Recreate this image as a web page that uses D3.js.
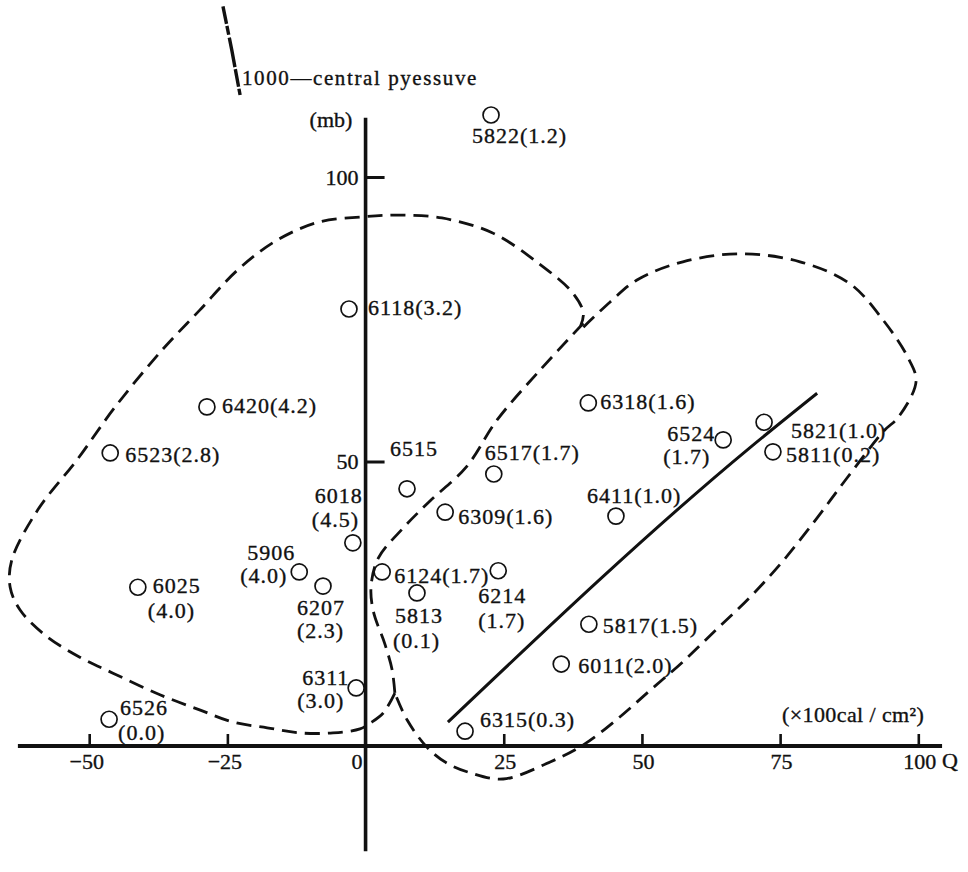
<!DOCTYPE html>
<html>
<head>
<meta charset="utf-8">
<script src="https://cdn.jsdelivr.net/npm/d3@7"></script>
<style>
  html, body { margin: 0; padding: 0; background: #fff; }
  svg { display: block; }
  text { font-family: "Liberation Serif", "DejaVu Serif", serif; fill: #111; stroke: #111; stroke-width: 0.35px; }
</style>
</head>
<body>
<svg id="chart" width="968" height="872"></svg>
<script>
// Typhoon cases: heat supply Q (x100 cal/cm2) against central pressure deficit (mb),
// with the bracketed value written beside each case number.
const caseIds       = ["5822","6118","6420","6523","6515","6517","6309","6018","6124","6214","5813","5906",
                       "6207","6025","6311","6526","6315","6318","6524","5821","5811","6411","5817","6011"];
const qValues       = [22.7, -3.0, -28.7, -46.2, 7.5, 23.2, 14.4, -2.3, 3.0, 24.0, 9.3, -12.0,
                       -7.7, -41.2, -1.7, -46.4, 18.0, 40.3, 64.7, 72.1, 73.7, 45.3, 40.4, 35.4];
const pressureValues = [110.9, 76.8, 59.6, 51.5, 45.2, 47.8, 41.1, 35.7, 30.6, 30.8, 26.9, 30.6,
                       28.1, 27.9, 10.2, 4.7, 2.6, 60.3, 53.8, 56.9, 51.7, 40.4, 21.4, 14.4];
const bracketValues = [1.2, 3.2, 4.2, 2.8, null, 1.7, 1.6, 4.5, 1.7, 1.7, 0.1, 4.0,
                       2.3, 4.0, 3.0, 0.0, 0.3, 1.6, 1.7, 1.0, 0.2, 1.0, 1.5, 2.0];

// Axis ticks
const xTickValues = [-50, -25, 0, 25, 50, 75, 100];
const xTickLabels = ["\u221250", "\u221225", "0", "25", "50", "75", "100"];
const yTickValues = [50, 100];
const yTickLabels = ["50", "100"];

// Hand-drawn envelopes (Q, pressure)
const sharedEdge = [[39.4,74.3],[31.6,66.1],[23.8,57.3],[18.2,49.0],[11.7,43.1],[6.8,38.3],[2.3,33.0],
                    [1.0,28.1],[1.4,23.7],[3.5,17.9],[4.8,13.4],[5.3,9.3]];
const leftEnvelope = [[5.3,9.3],[3.2,5.8],[0.8,4.0],[-1.0,3.0],[-5.9,2.3],[-11.9,2.3],[-17.8,3.2],[-24.0,4.2],
                      [-29.9,6.3],[-37.2,9.0],[-45.7,12.8],[-51.7,15.6],[-58.0,19.5],[-62.5,23.9],[-64.3,27.9],
                      [-64.0,32.7],[-59.3,41.5],[-52.2,50.3],[-45.3,59.6],[-36.8,69.6],[-30.0,76.6],[-23.1,83.7],
                      [-16.0,88.9],[-8.4,92.1],[-0.5,93.0],[6.2,93.3],[13.8,92.8],[22.9,90.2],[31.2,84.9],
                      [37.5,79.6],[39.4,76.1],[38.9,73.8]];
const rightEnvelope = [[39.4,73.6],[44.2,78.0],[49.1,81.9],[57.4,85.1],[67.7,86.5],[78.6,85.1],[87.7,81.2],
                       [93.6,74.9],[98.0,68.5],[99.6,64.1],[96.4,57.8],[93.8,55.4],[87.1,47.1],[81.7,40.1],
                       [75.5,32.5],[69.6,26.2],[63.6,20.6],[57.4,14.8],[51.5,9.8],[45.5,4.7],[39.4,0.2],
                       [33.4,-2.8],[24.9,-5.8],[18.9,-4.7],[14.7,-3.0],[11.1,-0.2],[7.5,4.6],[5.3,9.3]];

// Fitted relation drawn as a solid line
const trendLine = [[14.9,4.2],[69.5,52.4],[81.7,62.0]];

// Broken stub of the pressure scale beside the 1000 mb caption
const pressureStub = [[-25.8,130.0],[-24.2,122.3],[-22.7,114.4]];

// Label placement for each case: offsets (px) of each text line from its circle
const labelLayout = {
  "5822": [[-19, 28]], "6118": [[19, 6]], "6420": [[15, 6]], "6523": [[15, 9]],
  "6515": [[-17, -33]], "6517": [[-9, -14]], "6309": [[13, 12]],
  "6018": [[-38, -40], [-41, -16]], "6124": [[12, 11]], "6214": [[-20, 32], [-20, 57]],
  "5813": [[-22, 30], [-24, 55]], "5906": [[-52, -12], [-59, 11]], "6207": [[-26, 29], [-26, 52]],
  "6025": [[15, 6], [10, 31]], "6311": [[-54, -3], [-59, 20]], "6526": [[11, -4], [9, 21]],
  "6315": [[15, -4]], "6318": [[12, 6]], "6524": [[-56, 1], [-60, 24]], "5821": [[27, 16]],
  "5811": [[13, 10]], "6411": [[-29, -13]], "5817": [[14, 9]], "6011": [[17, 9]]
};

const svg = d3.select("#chart");
const ink = "#111";

const x = d3.scaleLinear().domain([-50, 100]).range([89.2, 918.3]);
const y = d3.scaleLinear().domain([0, 100]).range([746, 177]);

const cases = caseIds.map((id, i) => ({
  id, q: qValues[i], p: pressureValues[i], v: bracketValues[i]
}));

// Envelopes
const curve = d3.line().x(d => x(d[0])).y(d => y(d[1])).curve(d3.curveCatmullRom.alpha(0.5));
[leftEnvelope, sharedEdge, rightEnvelope].forEach(pts => {
  svg.append("path")
    .attr("d", curve(pts))
    .attr("fill", "none")
    .attr("stroke", ink)
    .attr("stroke-width", 2.8)
    .attr("stroke-dasharray", "15 8");
});

// Solid trend line
svg.append("path")
  .attr("d", d3.line().x(d => x(d[0])).y(d => y(d[1])).curve(d3.curveMonotoneX)(trendLine))
  .attr("fill", "none")
  .attr("stroke", ink)
  .attr("stroke-width", 3);

// Axis lines
svg.append("line")
  .attr("x1", x(-62.9)).attr("x2", x(104.3))
  .attr("y1", y(0)).attr("y2", y(0))
  .attr("stroke", ink).attr("stroke-width", 4);
svg.append("line")
  .attr("x1", x(0)).attr("x2", x(0))
  .attr("y1", y(110.4)).attr("y2", y(-18.5))
  .attr("stroke", ink).attr("stroke-width", 3.6);

// X axis ticks (pointing up) and labels
const xAxis = d3.axisBottom(x)
  .tickValues(xTickValues)
  .tickFormat((d, i) => xTickLabels[i])
  .tickSize(-12)
  .tickPadding(7.5);
const gx = svg.append("g").attr("transform", `translate(0,${y(0)})`).call(xAxis);
gx.select(".domain").remove();
gx.selectAll(".tick line").attr("stroke", ink).attr("stroke-width", 2.6)
  .filter(d => d === 0).remove();
gx.selectAll(".tick text")
  .attr("font-size", 22)
  .attr("font-family", "Liberation Serif, serif")
  .attr("fill", ink)
  .attr("dx", d => d === 0 ? -9 : (d < 0 ? -3 : 1));

// Y axis ticks (pointing right) and labels
const yAxis = d3.axisLeft(y)
  .tickValues(yTickValues)
  .tickFormat((d, i) => yTickLabels[i])
  .tickSize(-19)
  .tickPadding(7);
const gy = svg.append("g").attr("transform", `translate(${x(0)},0)`).call(yAxis);
gy.select(".domain").remove();
gy.selectAll(".tick line").attr("stroke", ink).attr("stroke-width", 3);
gy.selectAll(".tick text")
  .attr("font-size", 22)
  .attr("font-family", "Liberation Serif, serif")
  .attr("fill", ink);

// Axis titles
svg.append("text")
  .attr("x", x(0) - 56).attr("y", 127)
  .attr("font-size", 22)
  .text("(mb)");
svg.append("text")
  .attr("x", 242).attr("y", 85)
  .attr("font-size", 21)
  .attr("letter-spacing", 1.6)
  .text("1000\u2014central  pyessuve");
svg.append("text")
  .attr("x", x(104.3)).attr("y", 768)
  .attr("font-size", 22)
  .text("Q");
svg.append("text")
  .attr("x", 782).attr("y", 722)
  .attr("font-size", 22)
  .attr("letter-spacing", 0.4)
  .text("(\u00d7100cal / cm\u00b2)");

// Stub of the pressure scale
svg.append("path")
  .attr("d", d3.line().x(d => x(d[0])).y(d => y(d[1]))(pressureStub))
  .attr("fill", "none")
  .attr("stroke", ink)
  .attr("stroke-width", 3.4)
  .attr("stroke-dasharray", "18 2 9 3 30 2");

// Case markers
svg.append("g").selectAll("circle")
  .data(cases)
  .join("circle")
  .attr("cx", d => x(d.q))
  .attr("cy", d => y(d.p))
  .attr("r", 8)
  .attr("fill", "none")
  .attr("stroke", ink)
  .attr("stroke-width", 1.7);

// Case labels: number, then bracketed value on the same or the next line
const labels = svg.append("g");
cases.forEach(d => {
  const lines = labelLayout[d.id];
  const valueText = d.v === null ? "" : `(${d.v.toFixed(1)})`;
  const texts = lines.length === 1 ? [d.id + valueText] : [d.id, valueText];
  lines.forEach((off, k) => {
    labels.append("text")
      .attr("x", x(d.q) + off[0])
      .attr("y", y(d.p) + off[1])
      .attr("font-size", 22)
      .attr("letter-spacing", 1)
      .text(texts[k]);
  });
});
</script>
</body>
</html>
